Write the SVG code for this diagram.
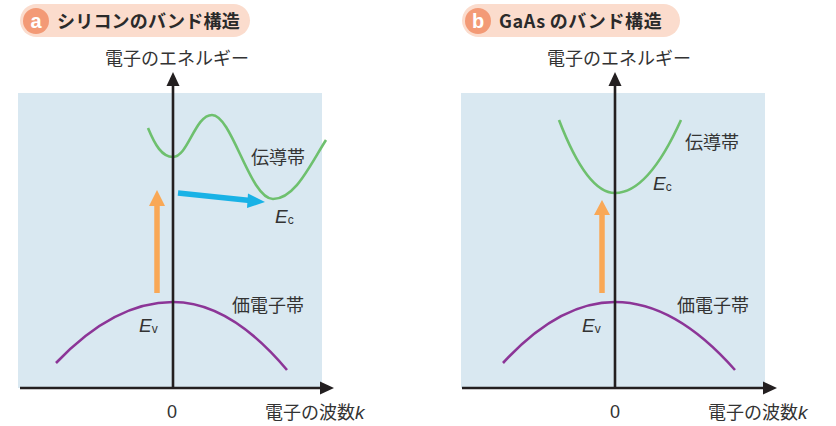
<svg xmlns="http://www.w3.org/2000/svg" width="836" height="426" viewBox="0 0 836 426">
<defs>
<style>
.bg{fill:#d9e8f1}
.pill{fill:#fbdccd}
.badge{fill:#f39a76}
.badgeT{font-family:"Liberation Sans",Arial,sans-serif;font-weight:bold;font-size:20px;fill:#fff;text-anchor:middle}
.title{font-family:"Noto Sans CJK JP","Noto Sans",sans-serif;font-weight:bold;font-size:18px;fill:#2a2a2a}
.lbl{font-family:"Noto Sans CJK JP","Noto Sans",sans-serif;font-size:18px;fill:#333}
.it{font-family:"Liberation Sans",Arial,sans-serif;font-style:italic;font-size:19px;fill:#333}
.sub{font-family:"Liberation Sans",Arial,sans-serif;font-size:12px;fill:#333}
.num{font-family:"Liberation Sans",Arial,sans-serif;font-size:18px;fill:#333;text-anchor:middle}
.axis{stroke:#231f20;stroke-width:2.6;fill:none}
.head{fill:#231f20}
.cb{fill:none;stroke:#6ec06e;stroke-width:2.6}
.vb{fill:none;stroke:#8c3597;stroke-width:2.6}
.up{stroke:#f9a856;stroke-width:5.5;fill:none}
.upH{fill:#f9a856}
.tr{stroke:#19b2e6;stroke-width:5.5;fill:none}
.trH{fill:#19b2e6}
</style>
</defs>

<!-- Panel a -->
<g id="panel-a">
<rect class="bg" x="18" y="93" width="304" height="295"/>
<g id="title-a">
<rect class="pill" x="20" y="4" width="230" height="33" rx="16.5"/>
<circle class="badge" cx="36" cy="21" r="13"/>
<text class="badgeT" x="36" y="28">a</text>
<text class="title" x="57" y="28" letter-spacing="0.2">シリコンのバンド構造</text>
</g>
<g id="conduction-a">
<path class="cb" d="M148,128 C155,145 162,157 173,157 C188,157 195,115 212,115 C232,115 250,199 273,199 C295,199 310,165 326,140"/>
</g>
<g id="valence-a">
<path class="vb" d="M56,363 Q114,302 173,302 Q230,302 287,370"/>
</g>
<g id="axes-a">
<line class="axis" x1="173" y1="388" x2="173" y2="84"/>
<polygon class="head" points="173,72 166.5,86 179.5,86"/>
<line class="axis" x1="20" y1="388" x2="322" y2="388"/>
<polygon class="head" points="334,388 320,381.5 320,394.5"/>
</g>
<g id="labels-a">
<text class="lbl" x="177" y="65" text-anchor="middle">電子のエネルギー</text>
<text class="lbl" x="251" y="164">伝導帯</text>
<text class="lbl" x="232" y="312">価電子帯</text>
<text class="it" x="275" y="223">E<tspan class="sub" font-style="normal" dy="1">c</tspan></text>
<text class="it" x="139" y="332">E<tspan class="sub" font-style="normal" dy="1">v</tspan></text>
<text class="num" x="172" y="418">0</text>
<text class="lbl" x="265" y="419">電子の波数<tspan class="it">k</tspan></text>
</g>
</g>

<!-- Panel b -->
<g id="panel-b">
<rect class="bg" x="461" y="93" width="304" height="295"/>
<g id="title-b">
<rect class="pill" x="462" y="4" width="218" height="33" rx="16.5"/>
<circle class="badge" cx="478" cy="21" r="13"/>
<text class="badgeT" x="478" y="28">b</text>
<text class="title" x="499" y="28" letter-spacing="0.6">GaAs<tspan dx="4">のバンド構造</tspan></text>
</g>
<g id="conduction-b">
<path class="cb" d="M559,120 Q587,193 615,193 Q648,193 681,120"/>
</g>
<g id="valence-b">
<path class="vb" d="M503,363 Q559,302 615,302 Q675,302 735,370"/>
</g>
<g id="axes-b">
<line class="axis" x1="615" y1="388" x2="615" y2="84"/>
<polygon class="head" points="615,72 608.5,86 621.5,86"/>
<line class="axis" x1="462" y1="388" x2="765" y2="388"/>
<polygon class="head" points="777,388 763,381.5 763,394.5"/>
</g>
<g id="labels-b">
<text class="lbl" x="619" y="65" text-anchor="middle">電子のエネルギー</text>
<text class="lbl" x="685" y="149">伝導帯</text>
<text class="lbl" x="677" y="312">価電子帯</text>
<text class="it" x="653" y="190">E<tspan class="sub" font-style="normal" dy="1">c</tspan></text>
<text class="it" x="582" y="332">E<tspan class="sub" font-style="normal" dy="1">v</tspan></text>
<text class="num" x="615" y="418">0</text>
<text class="lbl" x="708" y="419">電子の波数<tspan class="it">k</tspan></text>
</g>
</g>

<!-- Connectors (transition arrows) -->
<g id="connectors">
<line class="up" x1="157" y1="293" x2="157" y2="204"/>
<polygon class="upH" points="157,190 149,206 165,206"/>
<line class="tr" x1="178" y1="193" x2="250" y2="200.5"/>
<polygon class="trH" points="265,202 248,193.5 247,208"/>
<line class="up" x1="602" y1="293" x2="602" y2="213"/>
<polygon class="upH" points="602,200 594,215 610,215"/>
</g>
</svg>
